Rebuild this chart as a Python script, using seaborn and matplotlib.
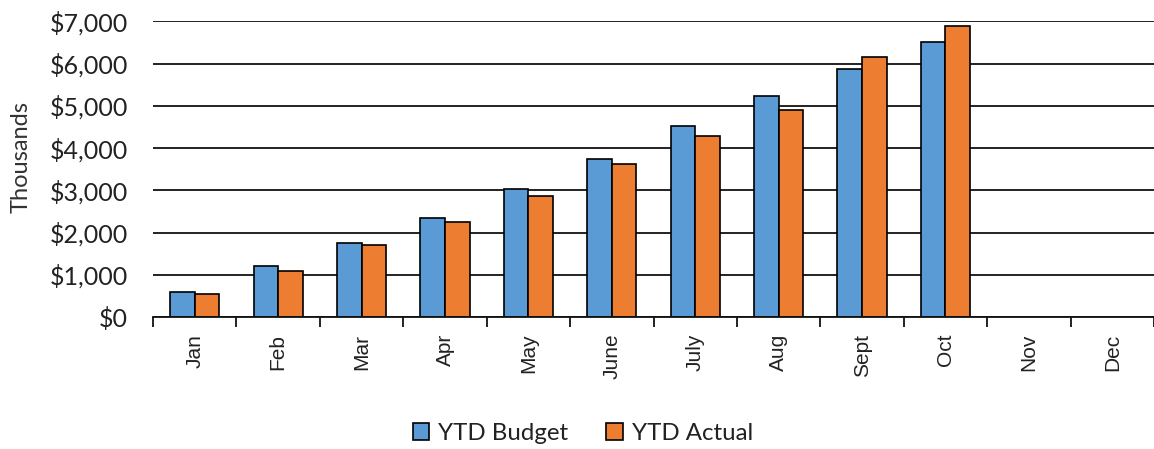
import numpy as np
import pandas as pd
import matplotlib
matplotlib.use('Agg')
import matplotlib.pyplot as plt
import seaborn as sns
from matplotlib.ticker import FuncFormatter, FixedLocator

months = ['Jan', 'Feb', 'Mar', 'Apr', 'May', 'June', 'July', 'Aug', 'Sept', 'Oct', 'Nov', 'Dec']
ytd_budget = [590, 1200, 1750, 2350, 3020, 3740, 4510, 5220, 5880, 6500, np.nan, np.nan]
ytd_actual = [540, 1090, 1700, 2260, 2860, 3620, 4290, 4890, 6160, 6880, np.nan, np.nan]
series = ['YTD Budget', 'YTD Actual']
colors = ['#5B9BD5', '#ED7D31']

df = pd.DataFrame({
    'month': months * 2,
    'value': ytd_budget + ytd_actual,
    'series': [series[0]] * 12 + [series[1]] * 12,
})

sns.set_theme(style='white')
plt.rcParams['font.family'] = ['Lato', 'DejaVu Sans']

fig = plt.figure(figsize=(11.54, 4.49), dpi=100)
ax = fig.add_axes([0.1326, 0.294, 0.8674, 0.6586])

sns.barplot(data=df, x='month', y='value', hue='series', order=months,
            hue_order=series, palette=colors, saturation=1, width=0.59,
            errorbar=None, edgecolor='black', linewidth=1.2, ax=ax, zorder=3)

ax.set_ylim(0, 7000)
ax.set_xlim(-0.5, 11.5)
ax.set_yticks(range(0, 7001, 1000))
ax.yaxis.set_major_formatter(FuncFormatter(lambda v, p: '${:,.0f}'.format(v)))
ax.grid(axis='y', color='#111111', linewidth=1.3, zorder=0)
ax.set_axisbelow(True)

for s in ['top', 'right', 'left']:
    ax.spines[s].set_visible(False)
ax.spines['bottom'].set_color('#111111')
ax.spines['bottom'].set_linewidth(1.3)
ax.spines['bottom'].set_zorder(4)

# month labels centred, small ticks between categories
ax.xaxis.set_minor_locator(FixedLocator(np.arange(-0.5, 12, 1)))
ax.tick_params(axis='x', which='minor', bottom=True, length=7, width=1.3, color='#111111')
ax.tick_params(axis='x', which='major', bottom=False, length=0, pad=12)
ax.tick_params(axis='y', left=False, pad=12)
for lab in ax.get_xticklabels():
    lab.set_rotation(90)
    lab.set_fontfamily(['Liberation Sans', 'DejaVu Sans'])
    lab.set_fontsize(15)
    lab.set_color('#222222')
for lab in ax.get_yticklabels():
    lab.set_fontsize(18)
    lab.set_color('#222222')

ax.set_xlabel('')
ax.set_ylabel('Thousands', fontsize=17, color='#333333')
ax.yaxis.set_label_coords(-0.121, 0.54)

handles, labels = ax.get_legend_handles_labels()
ax.get_legend().remove()
leg = fig.legend(handles, labels, loc='center', bbox_to_anchor=(0.505, 0.035), ncol=2,
                 frameon=False, fontsize=17.3, handlelength=0.7, handleheight=0.7,
                 handletextpad=0.35, columnspacing=1.6)
for t in leg.get_texts():
    t.set_color('#222222')

fig.savefig('out.png', dpi=100)
